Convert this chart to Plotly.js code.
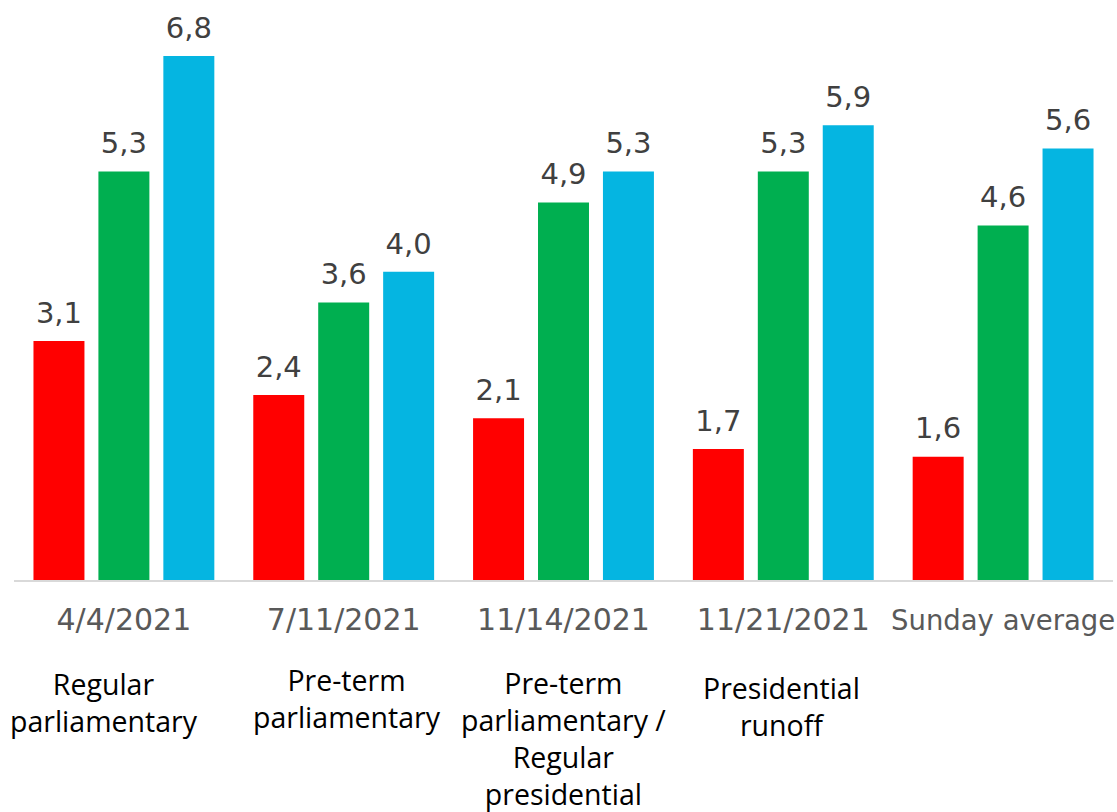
<!DOCTYPE html>
<html>
<head>
<meta charset="utf-8">
<script src="https://cdn.plot.ly/plotly-3.0.1.min.js"></script>
<style>
  html, body { margin: 0; padding: 0; background: #fff; }
  #chart { width: 1117px; height: 812px; }
</style>
</head>
<body>
<div id="chart"></div>
<script>
// ---- Data ----
const categories = ['4/4/2021', '7/11/2021', '11/14/2021', '11/21/2021', 'Sunday average'];
const descriptions = ['Regular<br>parliamentary', 'Pre-term<br>parliamentary', 'Pre-term<br>parliamentary /<br>Regular<br>presidential', 'Presidential<br>runoff', ''];
const seriesNames = ['Series 1', 'Series 2', 'Series 3'];
const redValues = [3.1, 2.4, 2.1, 1.7, 1.6];
const greenValues = [5.3, 3.6, 4.9, 5.3, 4.6];
const blueValues = [6.8, 4.0, 5.3, 5.9, 5.6];
const seriesColors = ['#FF0000', '#00AF50', '#05B5E1'];

// ---- Styling / layout ----
const valueFont = { family: 'DejaVu Sans, sans-serif', size: 29, color: '#404040' };
const tickFont = { family: 'DejaVu Sans, sans-serif', size: 30, color: '#595959' };
const descFont = { family: 'Open Sans, sans-serif', size: 28.5, color: '#000000' };

const seriesValues = [redValues, greenValues, blueValues];
const barTraces = seriesValues.map((vals, i) => ({
  type: 'bar',
  name: seriesNames[i],
  x: categories,
  y: vals,
  offsetgroup: 'g' + i,
  marker: { color: seriesColors[i], line: { width: 0 } },
  hoverinfo: 'x+y',
  showlegend: false
}));
// value labels: text-only scatter traces grouped like the bars
const labelTraces = seriesValues.map((vals, i) => ({
  type: 'scatter',
  mode: 'markers+text',
  name: seriesNames[i] + ' labels',
  x: categories,
  y: vals,
  offsetgroup: 'g' + i,
  text: vals.map(v => v.toFixed(1).replace('.', ',')),
  textposition: 'top center',
  textfont: valueFont,
  marker: { size: 16, opacity: 0 },
  cliponaxis: false,
  hoverinfo: 'skip',
  showlegend: false
}));

// long last tick label is drawn a bit smaller so it fits the page
const tickText = categories.map((c, i) => i === categories.length - 1
  ? '<span style="font-size:27.5px">' + c + '</span>' : c);

const descShiftX = [-20, 3.5, 0, -1.5, 0];
const descShiftY = [-122, -118, -158, -126, 0];
const annotations = descriptions.map((d, i) => ({
  xref: 'x', yref: 'paper',
  x: categories[i], y: 0,
  xshift: descShiftX[i], yshift: descShiftY[i],
  xanchor: 'center', yanchor: 'middle',
  text: d, showarrow: false, align: 'center',
  font: descFont
})).filter(a => a.text !== '');

const layout = {
  width: 1117, height: 812,
  margin: { l: 13.5, r: 3.5, t: 20, b: 232 },
  paper_bgcolor: '#ffffff', plot_bgcolor: '#ffffff',
  barmode: 'group',
  bargap: 0.1136,
  bargroupgap: 0.215,
  scattermode: 'group',
  scattergap: 0.1136,
  xaxis: {
    type: 'category',
    range: [-0.5, 4.5],
    tickmode: 'array',
    tickvals: categories,
    ticktext: tickText,
    showline: true, linecolor: '#D9D9D9', linewidth: 2,
    ticks: '', showgrid: false, zeroline: false,
    tickfont: tickFont,
    ticklabelstandoff: 12,
    automargin: false
  },
  yaxis: {
    range: [0, 7.267],
    visible: false, showgrid: false, zeroline: false
  },
  annotations: annotations
};

Plotly.newPlot('chart', barTraces.concat(labelTraces), layout, { displayModeBar: false, staticPlot: true });
</script>
</body>
</html>
